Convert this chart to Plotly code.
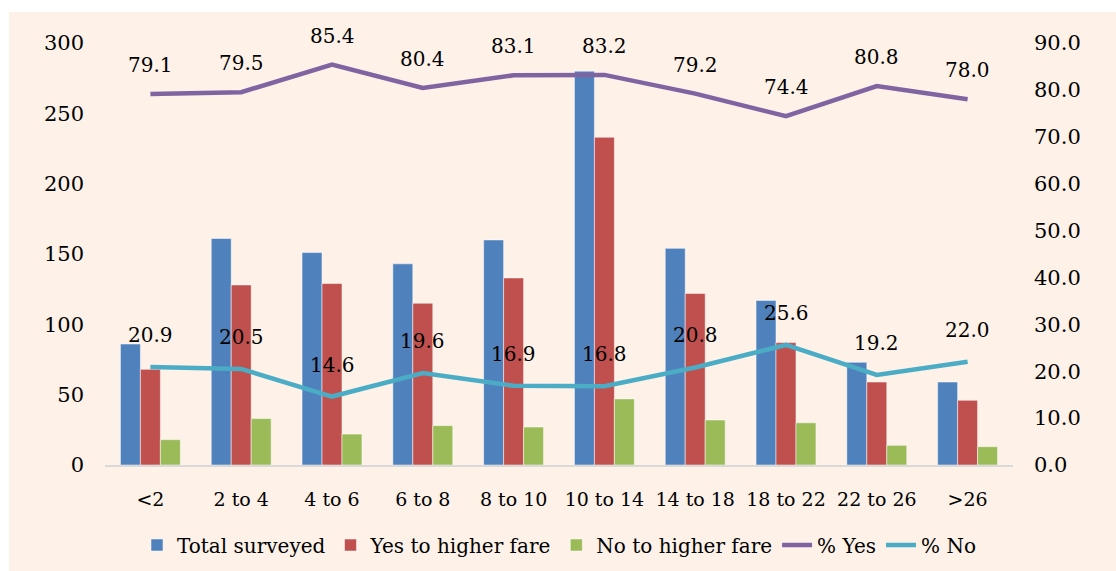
import plotly.graph_objects as go

categories = ["<2", "2 to 4", "4 to 6", "6 to 8", "8 to 10", "10 to 14", "14 to 18", "18 to 22", "22 to 26", ">26"]
total_surveyed = [86, 161, 151, 143, 160, 280, 154, 117, 73, 59]
yes_higher = [68, 128, 129, 115, 133, 233, 122, 87, 59, 46]
no_higher = [18, 33, 22, 28, 27, 47, 32, 30, 14, 13]
pct_yes = [79.1, 79.5, 85.4, 80.4, 83.1, 83.2, 79.2, 74.4, 80.8, 78.0]
pct_no = [20.9, 20.5, 14.6, 19.6, 16.9, 16.8, 20.8, 25.6, 19.2, 22.0]
left_ticks = [0, 50, 100, 150, 200, 250, 300]
right_ticks = [0, 10, 20, 30, 40, 50, 60, 70, 80, 90]

FONT = "DejaVu Serif"
BLUE, RED, GREEN, PURPLE, CYAN = "#4F81BD", "#C0504D", "#9BBB59", "#8064A2", "#4BACC6"
BG = "#FDF1E8"
TXT = "#000000"

fig = go.Figure()
edge = dict(color="rgba(255,255,255,0.5)", width=1)
fig.add_bar(x=categories, y=total_surveyed, name="Total surveyed", marker=dict(color=BLUE, line=edge))
fig.add_bar(x=categories, y=yes_higher, name="Yes to higher fare", marker=dict(color=RED, line=edge))
fig.add_bar(x=categories, y=no_higher, name="No to higher fare", marker=dict(color=GREEN, line=edge))
fig.add_scatter(x=categories, y=pct_yes, name="% Yes", mode="lines", yaxis="y2", line=dict(color=PURPLE, width=4.5))
fig.add_scatter(x=categories, y=pct_no, name="% No", mode="lines", yaxis="y2", line=dict(color=CYAN, width=4.5))

annotations = []
for c, v in zip(categories, pct_yes):
    annotations.append(dict(x=c, y=v, xref="x", yref="y2", text=f"{v:.1f}", showarrow=False, yshift=29,
                            font=dict(family=FONT, size=20, color=TXT)))
for c, v in zip(categories, pct_no):
    annotations.append(dict(x=c, y=v, xref="x", yref="y2", text=f"{v:.1f}", showarrow=False, yshift=32,
                            font=dict(family=FONT, size=20, color=TXT)))

L, R, T, B = 105, 103, 43, 106
W, H = 1116, 571
pw, ph = W - L - R, H - T - B
shapes = [dict(type="rect", xref="paper", yref="paper", layer="below",
               x0=(9 - L) / pw, x1=(W - L) / pw, y0=-B / ph, y1=(H - B - 12) / ph,
               fillcolor=BG, line=dict(width=0))]

fig.update_layout(
    width=W, height=H,
    margin=dict(l=L, r=R, t=T, b=B, autoexpand=False),
    paper_bgcolor="white", plot_bgcolor="rgba(0,0,0,0)",
    barmode="group", bargap=0.34, bargroupgap=0,
    font=dict(family=FONT, size=20, color=TXT),
    xaxis=dict(showgrid=False, showline=True, linecolor="#D9D9D9", linewidth=1.5, ticks="", automargin=False,
               ticklabelstandoff=16, tickfont=dict(size=19, color=TXT)),
    yaxis=dict(range=[0, 300], tickvals=left_ticks, showgrid=False, zeroline=False, showline=False, automargin=False,
               ticklabelstandoff=20, tickfont=dict(size=21, color=TXT)),
    yaxis2=dict(range=[0, 90], tickvals=right_ticks, ticktext=[f"{t:.1f}" for t in right_ticks],
                overlaying="y", side="right", showgrid=False, zeroline=False, showline=False, automargin=False,
                ticklabelstandoff=20, tickfont=dict(size=21, color=TXT)),
    legend=dict(orientation="h", x=0.5, xanchor="center", y=-80 / ph, yanchor="middle",
                font=dict(size=20, color=TXT), bgcolor="rgba(0,0,0,0)", traceorder="normal"),
    shapes=shapes,
    annotations=annotations,
)

fig.write_html("out.html")
